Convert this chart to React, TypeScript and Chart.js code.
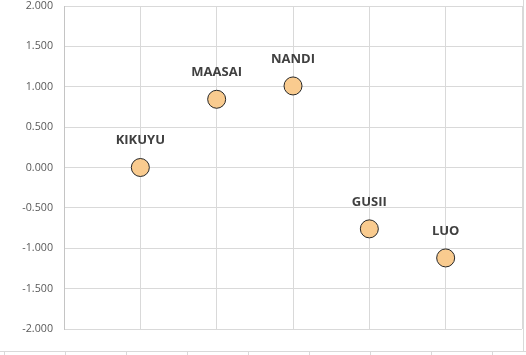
import React, { useEffect, useRef } from "react";
import { Chart, registerables } from "chart.js";

Chart.register(...registerables);

const categories = ["KIKUYU", "MAASAI", "NANDI", "GUSII", "LUO"];
const xValues = [1, 2, 3, 4, 5];
const yValues = [0.0, 0.845, 1.01, -0.76, -1.12];
const xRange = [0, 6];
const yRange = [-2, 2];
const yStep = 0.5;

const labelPlugin = {
  id: "pointLabels",
  afterDatasetsDraw(chart: any) {
    const ctx = chart.ctx;
    const meta = chart.getDatasetMeta(0);
    ctx.save();
    ctx.font = "bold 13px 'Open Sans'";
    ctx.fillStyle = "#404040";
    ctx.textAlign = "center";
    ctx.textBaseline = "middle";
    meta.data.forEach((pt: any, i: number) => {
      ctx.fillText(categories[i], pt.x, pt.y - 27);
    });
    ctx.restore();
  },
};

const decoPlugin = {
  id: "deco",
  afterDraw(chart: any) {
    const ctx = chart.ctx;
    const { width, height } = chart;
    ctx.save();
    ctx.strokeStyle = "#d9d9d9";
    ctx.lineWidth = 1;
    ctx.beginPath();
    ctx.moveTo(0, height - 3.5);
    ctx.lineTo(width, height - 3.5);
    for (let k = 0; k < 9; k++) {
      const x = 4.5 + k * 61;
      ctx.moveTo(x, height - 3.5);
      ctx.lineTo(x, height);
    }
    ctx.moveTo(width - 2.5, 0);
    ctx.lineTo(width - 2.5, height - 3.5);
    ctx.stroke();
    ctx.restore();
  },
};

export default function App() {
  const ref = useRef<HTMLCanvasElement>(null);
  useEffect(() => {
    if (!ref.current) return;
    const chart = new Chart(ref.current, {
      type: "scatter",
      data: {
        datasets: [
          {
            data: xValues.map((x, i) => ({ x, y: yValues[i] })),
            pointRadius: 9,
            pointHoverRadius: 9,
            pointBorderWidth: 1,
            pointBackgroundColor: "#F9CB8F",
            pointBorderColor: "#262626",
          },
        ],
      },
      options: {
        responsive: false,
        animation: false,
        events: [],
        layout: { autoPadding: false, padding: { top: 6, right: 4, left: 0, bottom: 0 } },
        plugins: { legend: { display: false }, tooltip: { enabled: false } },
        scales: {
          x: {
            type: "linear",
            min: xRange[0],
            max: xRange[1],
            ticks: { display: false, stepSize: 1 },
            grid: { color: "#d9d9d9", drawTicks: false },
            border: { display: false },
            afterFit(scale: any) {
              scale.height = 26;
              scale.paddingLeft = 0;
              scale.paddingRight = 0;
            },
          },
          y: {
            type: "linear",
            min: yRange[0],
            max: yRange[1],
            ticks: {
              stepSize: yStep,
              padding: 11,
              color: "#595959",
              font: { family: "'Open Sans'", size: 10.7, lineHeight: 1 },
              callback: (v: any) => Number(v).toFixed(3),
            },
            grid: { color: "#d9d9d9", drawTicks: false },
            border: { display: true, color: "#c4c4c4" },
            afterFit(scale: any) {
              scale.width = 64;
              scale.paddingTop = 0;
              scale.paddingBottom = 0;
            },
          },
        },
      },
      plugins: [labelPlugin, decoPlugin],
    });
    return () => chart.destroy();
  }, []);
  return (
    <div style={{ position: "fixed", left: 0, top: 0, width: 526, height: 355, background: "#fff" }}>
      <canvas ref={ref} width={526} height={355} style={{ display: "block" }} />
    </div>
  );
}
